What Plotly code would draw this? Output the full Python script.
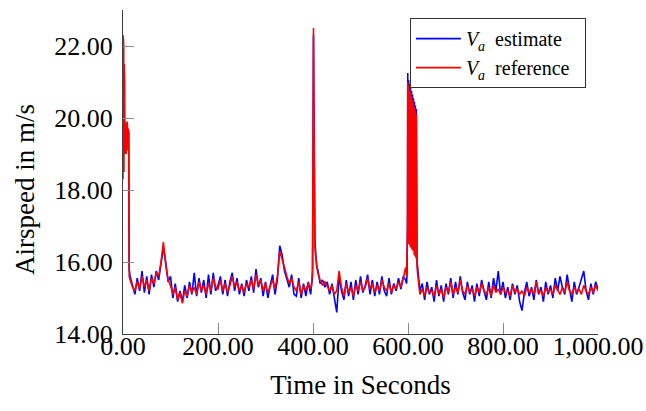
import plotly.graph_objects as go

# ---- data ----
# start transient, 0.5 s sampling
t_start = [0, 0.5, 1, 1.5, 2, 2.5, 3, 3.5, 4, 4.5, 5, 5.5, 6, 6.5, 7, 7.5, 8, 8.5,
           9, 9.5, 10, 10.5, 11, 11.5, 12, 12.5, 13]
est_start = [19.0, 19.5, 20.0, 19.8, 20.45, 19.9, 19.6, 19.4, 19.5, 19.7, 19.5, 19.6, 19.4,
             19.7, 19.5, 19.65, 19.4, 19.6, 19.5, 19.7, 19.45, 19.6, 19.5, 19.65, 19.6, 17.5, 15.8]
ref_start = [18.3, 22.3, 18.6, 22.0, 18.5, 21.5, 18.8, 21.0, 19.0, 19.4, 19.9, 19.2, 19.7,
             19.0, 19.8, 19.3, 19.6, 19.1, 19.9, 19.4, 19.6, 19.2, 19.7, 19.5, 19.6, 17.0, 15.6]

# 15 s .. 395 s, 5 s sampling
t_mid1 = list(range(15, 400, 5))
est_mid1 = [15.6, 15.35, 15.1, 15.55, 15.2, 15.75, 15.15, 15.6, 15.1, 15.65, 15.3, 15.75, 15.5,
            15.95, 16.4, 16.0, 15.45, 15.6, 15.0, 15.4, 14.9, 15.2, 14.9, 15.35, 15.0, 15.45,
            15.1, 15.7, 15.05, 15.55, 15.15, 15.5, 15.0, 15.65, 15.1, 15.7, 15.2, 15.35, 15.6,
            15.1, 15.5, 15.05, 15.45, 15.7, 15.2, 15.55, 15.1, 15.4, 15.05, 15.5, 15.2, 15.6,
            15.15, 15.8, 15.3, 15.55, 15.05, 15.45, 15.0, 15.35, 15.65, 15.1, 15.5, 16.45, 16.2,
            15.75, 15.5, 15.3, 15.65, 15.1, 15.05, 15.55, 15.0, 15.4, 15.05, 15.45, 15.1]
ref_mid1 = [15.5, 15.3, 15.2, 15.45, 15.25, 15.6, 15.3, 15.5, 15.2, 15.55, 15.4, 15.7, 15.6,
            16.0, 16.55, 15.9, 15.5, 15.35, 15.1, 15.3, 14.95, 15.15, 14.85, 15.2, 15.05, 15.35,
            15.15, 15.3, 15.1, 15.45, 15.2, 15.35, 15.1, 15.4, 15.2, 15.55, 15.3, 15.25, 15.5,
            15.2, 15.4, 15.15, 15.35, 15.6, 15.3, 15.45, 15.2, 15.35, 15.15, 15.4, 15.3, 15.5,
            15.25, 15.65, 15.35, 15.5, 15.2, 15.4, 15.15, 15.3, 15.5, 15.25, 15.6, 16.3, 16.1,
            15.85, 15.6, 15.4, 15.55, 15.3, 15.2, 15.45, 15.1, 15.35, 15.2, 15.4, 15.25]

# spike near 400 s
t_spike = [397, 399, 400, 401, 402, 403, 404, 406, 408]
est_spike = [15.3, 15.6, 18.5, 22.3, 20.0, 17.8, 16.6, 16.2, 15.85]
ref_spike = [15.4, 15.8, 19.0, 22.5, 20.2, 17.5, 16.4, 16.1, 15.9]

# 410 s .. 595 s, 5 s sampling
t_mid2 = list(range(410, 600, 5))
est_mid2 = [15.8, 15.4, 15.5, 15.3, 15.45, 15.1, 15.4, 14.95, 14.6, 15.6, 15.2, 14.95, 15.5,
            15.05, 15.45, 14.95, 15.5, 15.1, 15.6, 15.15, 15.35, 15.65, 15.1, 15.5, 15.05, 15.45,
            15.1, 15.6, 15.2, 15.05, 15.55, 15.1, 15.4, 15.2, 15.55, 15.25, 15.6, 15.5]
ref_mid2 = [15.7, 15.5, 15.35, 15.45, 15.3, 15.2, 15.35, 15.1, 15.2, 15.75, 15.3, 15.05, 15.4,
            15.15, 15.3, 15.05, 15.35, 15.2, 15.45, 15.2, 15.3, 15.55, 15.25, 15.4, 15.15, 15.35,
            15.2, 15.5, 15.3, 15.2, 15.4, 15.15, 15.35, 15.25, 15.45, 15.3, 15.55, 15.85]

# oscillation burst near 600 s, 0.5 s sampling
t_burst = [597, 598, 599, 599.5, 600, 600.5, 601, 601.5, 602, 602.5, 603, 603.5, 604, 604.5,
           605, 605.5, 606, 606.5, 607, 607.5, 608, 608.5, 609, 609.5, 610, 610.5, 611, 611.5,
           612, 612.5, 613, 613.5, 614, 614.5, 615, 615.5, 616, 616.5, 617, 617.5, 618, 618.5,
           619, 620, 622]
est_burst = [15.4, 15.7, 17.2, 21.25, 16.6, 21.15, 16.7, 21.05, 16.6, 21.0, 16.65, 20.95, 16.55,
             20.9, 16.6, 20.85, 16.5, 20.8, 16.55, 20.75, 16.45, 20.7, 16.5, 20.65, 16.4, 20.6,
             16.4, 20.55, 16.35, 20.5, 16.3, 20.45, 16.3, 20.4, 16.25, 20.35, 16.2, 20.3, 16.2,
             20.25, 16.15, 20.1, 16.0, 15.9, 15.5]
ref_burst = [15.6, 16.0, 17.0, 21.0, 16.5, 20.95, 16.6, 20.9, 16.5, 20.85, 16.55, 20.8, 16.45,
             20.75, 16.5, 20.7, 16.4, 20.65, 16.45, 20.6, 16.35, 20.55, 16.4, 20.5, 16.3, 20.45,
             16.3, 20.4, 16.25, 20.35, 16.2, 20.3, 16.2, 20.25, 16.15, 20.2, 16.1, 20.15, 16.1,
             20.1, 16.0, 16.0, 15.85, 15.7, 15.4]

# 625 s .. 1000 s, 5 s sampling
t_end = list(range(625, 1001, 5))
est_end = [15.2, 15.4, 14.95, 15.45, 15.1, 15.3, 14.9, 15.5, 15.05, 15.35, 14.9, 15.4, 15.1,
           15.55, 15.0, 15.45, 15.1, 15.6, 15.15, 14.95, 15.45, 15.1, 15.35, 14.9, 15.4, 15.05,
           15.5, 15.2, 14.95, 15.45, 15.0, 15.55, 15.2, 15.75, 15.1, 15.45, 15.0, 15.3, 14.95,
           15.4, 15.1, 15.35, 14.9, 14.65, 15.15, 15.45, 15.05, 15.3, 14.95, 15.5, 15.1, 15.3,
           14.9, 15.45, 15.1, 15.35, 15.0, 15.55, 15.2, 15.6, 15.3, 15.1, 15.65, 15.25, 14.9,
           15.45, 15.1, 15.3, 15.55, 15.75, 15.2, 14.95, 15.4, 15.1, 15.45, 15.25]
ref_end = [15.1, 15.25, 15.05, 15.3, 15.15, 15.2, 15.05, 15.35, 15.1, 15.25, 15.0, 15.3, 15.15,
           15.45, 15.1, 15.3, 15.15, 15.5, 15.2, 15.1, 15.35, 15.15, 15.25, 15.05, 15.3, 15.15,
           15.4, 15.2, 15.1, 15.3, 15.05, 15.35, 15.15, 15.25, 15.1, 15.3, 15.15, 15.2, 15.05,
           15.35, 15.15, 15.25, 15.1, 15.2, 15.05, 15.3, 15.15, 15.25, 15.1, 15.45, 15.15, 15.2,
           15.05, 15.3, 15.15, 15.25, 15.1, 15.35, 15.2, 15.1, 15.3, 15.15, 15.45, 15.2, 15.1,
           15.3, 15.15, 15.25, 15.1, 15.35, 15.2, 15.1, 15.3, 15.15, 15.35, 15.2]

time_s = t_start + t_mid1 + t_spike + t_mid2 + t_burst + t_end
va_estimate = est_start + est_mid1 + est_spike + est_mid2 + est_burst + est_end
va_reference = ref_start + ref_mid1 + ref_spike + ref_mid2 + ref_burst + ref_end

x_ticks = [0, 200, 400, 600, 800, 1000]
y_ticks = [14, 16, 18, 20, 22]

FONT = "Liberation Serif, Times New Roman, serif"

fig = go.Figure()
fig.add_trace(go.Scatter(x=time_s, y=va_estimate, mode="lines",
                         line=dict(color="#0000ff", width=1.6),
                         name="<i>V</i><sub><i>a</i></sub>  estimate"))
fig.add_trace(go.Scatter(x=time_s, y=va_reference, mode="lines",
                         line=dict(color="#ff0000", width=1.6),
                         name="<i>V</i><sub><i>a</i></sub>  reference&nbsp;&nbsp;"))

fig.update_layout(
    width=646, height=411,
    margin=dict(l=123, r=48, t=10, b=77),
    paper_bgcolor="white", plot_bgcolor="white",
    font=dict(family=FONT, size=26, color="black"),
    showlegend=True,
    legend=dict(x=0.604, y=0.975, xanchor="left", yanchor="top",
                bgcolor="white", bordercolor="#333333", borderwidth=1,
                font=dict(family=FONT, size=20, color="black"),
                itemwidth=45, tracegroupgap=0),
    xaxis=dict(range=[0, 1000], tickvals=x_ticks, tickformat=",.2f",
               automargin=False,
               showline=True, linecolor="#404040", linewidth=1.2, mirror=False,
               ticks="inside", ticklen=11, tickcolor="#8c8c8c", tickwidth=1,
               ticklabelstandoff=-11,
               showgrid=False, zeroline=False,
               title=dict(text="Time in Seconds", font=dict(family=FONT, size=27), standoff=14),
               tickfont=dict(family=FONT, size=26)),
    yaxis=dict(range=[14, 23], tickvals=y_ticks, tickformat=".2f",
               automargin=False,
               showline=True, linecolor="#404040", linewidth=1.2, mirror=False,
               ticks="inside", ticklen=11, tickcolor="#8c8c8c", tickwidth=1,
               ticklabelstandoff=4,
               showgrid=False, zeroline=False,
               tickfont=dict(family=FONT, size=26)),
    annotations=[dict(text="Airspeed in m/s", textangle=-90, showarrow=False,
                      xref="paper", yref="paper",
                      x=(25 - 123) / 475, y=(334 - 190) / 324,
                      xanchor="center", yanchor="middle",
                      font=dict(family=FONT, size=27, color="black"))],
)

fig.write_html("out.html", config={"displayModeBar": False},
               post_script="document.body.style.margin='0';document.body.style.padding='0';")
